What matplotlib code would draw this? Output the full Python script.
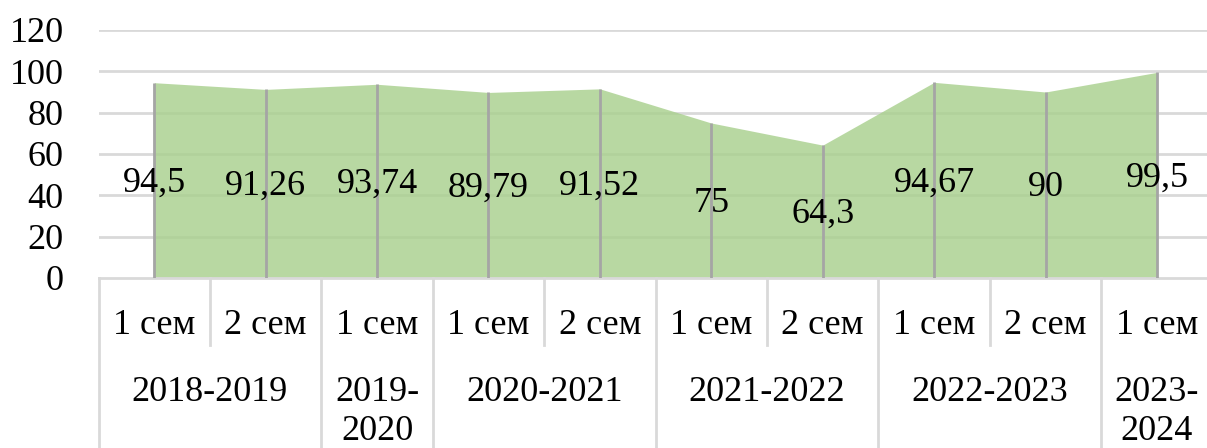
import matplotlib.pyplot as plt
from matplotlib.transforms import blended_transform_factory

# datos
semestres = ["1 сем", "2 сем", "1 сем", "1 сем", "2 сем", "1 сем", "2 сем", "1 сем", "2 сем", "1 сем"]
valores = [94.5, 91.26, 93.74, 89.79, 91.52, 75, 64.3, 94.67, 90, 99.5]
etiquetas = ["94,5", "91,26", "93,74", "89,79", "91,52", "75", "64,3", "94,67", "90", "99,5"]
anios = ["2018-2019", "2019-\n2020", "2020-2021", "2021-2022", "2022-2023", "2023-\n2024"]
sem_por_anio = [2, 1, 2, 2, 2, 1]

plt.rcParams['font.family'] = ['Liberation Serif', 'DejaVu Serif']

W, H = 1207, 448
fig = plt.figure(figsize=(W / 100, H / 100), dpi=100)
x0, x1 = 98.5, 1212.7
y0, y1 = 278, 30
ax = fig.add_axes([x0 / W, (H - y0) / H, (x1 - x0) / W, (y0 - y1) / H])

x = list(range(len(valores)))
gris = '#D9D9D9'

ax.set_xlim(-0.5, len(valores) - 0.5)
ax.set_ylim(0, 120)
ax.set_yticks(range(0, 121, 20))
for v in range(20, 121, 20):
    ax.axhline(v, color=gris, lw=2, zorder=1)
ax.fill_between(x, valores, 0, color='#A9D08E', alpha=0.82, lw=0, zorder=2)
ax.vlines(x, 0, valores, color='#A5A5A5', lw=2, zorder=3)

for xi, v, t in zip(x, valores, etiquetas):
    ax.annotate(t, (xi, v / 2), xytext=(0, -3), textcoords='offset pixels',
                ha='center', va='center', fontsize=26, zorder=4)

for s in ['top', 'right', 'left']:
    ax.spines[s].set_visible(False)
ax.spines['bottom'].set_color(gris)
ax.spines['bottom'].set_linewidth(2)
ax.set_xticks([])
ax.tick_params(axis='y', length=0, pad=25, labelsize=26)

# eje de categorias en dos niveles
tr = blended_transform_factory(ax.transData, ax.transAxes)
px = 1 / (y0 - y1)
fila1 = -(345 - y0) * px
fondo = -(H - y0 + 5) * px
ax.plot([-0.5, -0.5], [0, fondo], color=gris, lw=2, transform=tr, clip_on=False)
inicio = 0
for n, anio in zip(sem_por_anio, anios):
    fin = inicio + n
    ax.plot([fin - 0.5, fin - 0.5], [0, fondo], color=gris, lw=2, transform=tr, clip_on=False)
    for k in range(inicio + 1, fin):
        ax.plot([k - 0.5, k - 0.5], [0, fila1], color=gris, lw=2, transform=tr, clip_on=False)
    ax.text((inicio + fin - 1) / 2, -(376 - y0) * px, anio, ha='center', va='top',
            fontsize=26, linespacing=1.22, transform=tr)
    inicio = fin

for xi, s in zip(x, semestres):
    ax.text(xi, -(325 - y0) * px, s, ha='center', va='center', fontsize=26, transform=tr)

fig.savefig('out.png', dpi=100)
